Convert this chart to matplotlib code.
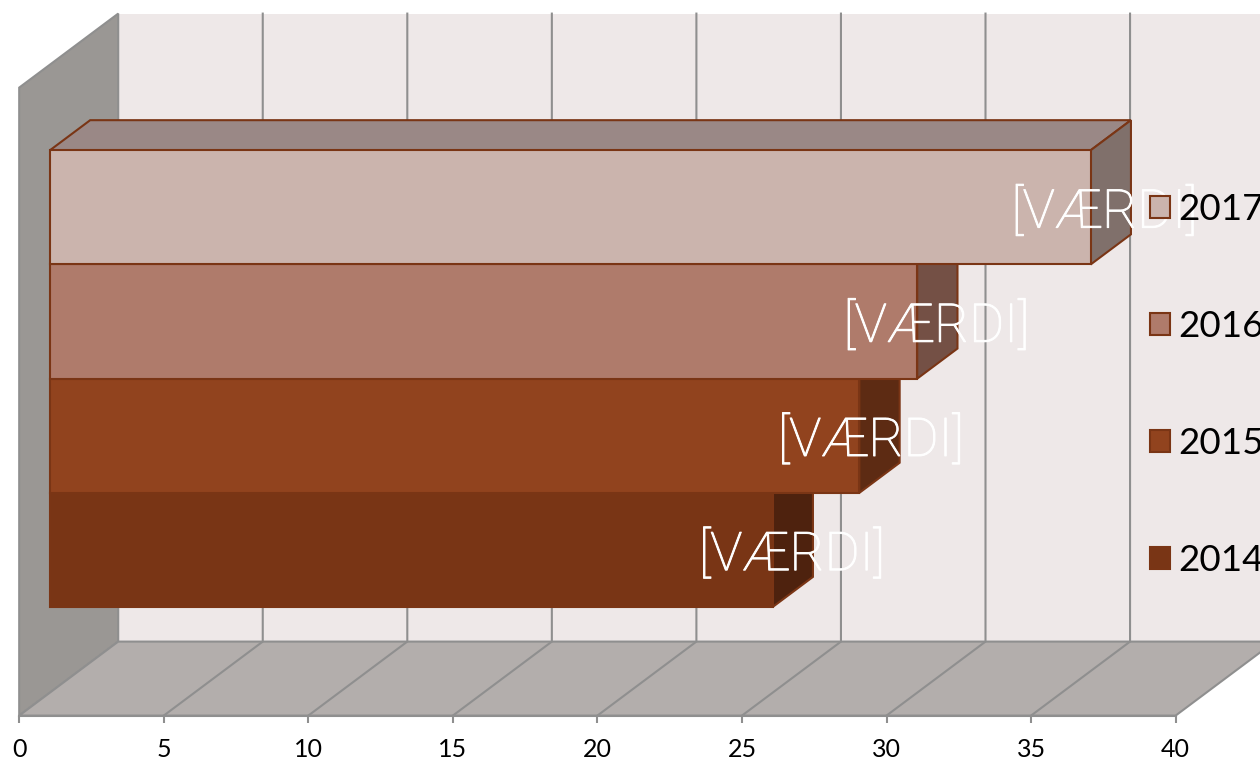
import matplotlib
matplotlib.use("Agg")
import matplotlib.pyplot as plt
import matplotlib.patheffects as pe
from matplotlib.patches import Polygon, Patch

# data, bottom bar first
years = ["2014", "2015", "2016", "2017"]
values = [25, 28, 30, 36]
bar_labels = ["[VÆRDI]", "[VÆRDI]", "[VÆRDI]", "[VÆRDI]"]
x_ticks = [0, 5, 10, 15, 20, 25, 30, 35, 40]

front_colors = ["#793515", "#91431E", "#AF7B6B", "#CBB4AD"]
side_colors = ["#4E220E", "#5D2B13", "#745045", "#80706B"]
top_colors = ["#5A2A14", "#6B3418", "#7C5A50", "#9A8886"]
edge_color = "#7A3515"
grid_color = "#8F8F8F"

W, H = 1260, 760
PX_PER_VALUE = 28.91
PLOT_LEFT = 19.2    # px of value 0 on the front edge
PLOT_BOTTOM = 715.6 # px of the front floor edge
PLOT_HEIGHT = 628
DEPTH_X = 99 / PX_PER_VALUE
DEPTH_Y = 74 / PLOT_HEIGHT
BAR_H = 1 / 5.5     # 4 bars plus 150% gap
BAR_D0, BAR_D1 = 0.31, 0.717
LABEL_SHIFT = [0.67, 0.40, 0.67, 0.48]  # labels don't sit evenly past the bar ends


def project(v, y, d):
    # simple oblique projection, d is 0 at the front and 1 at the back
    return v + d * DEPTH_X, y + d * DEPTH_Y


def face(ax, pts, color, edge=None, z=1, lw=1.5):
    ax.add_patch(Polygon([project(*p) for p in pts], closed=True, facecolor=color,
                         edgecolor=edge if edge else color, linewidth=lw, zorder=z,
                         joinstyle="miter"))


plt.rcParams["font.family"] = ["Lato", "DejaVu Sans"]
fig = plt.figure(figsize=(W / 100, H / 100), dpi=100)
ax = fig.add_axes([0, 0, 1, 1])
ax.set_xlim(-PLOT_LEFT / PX_PER_VALUE, (W - PLOT_LEFT) / PX_PER_VALUE)
ax.set_ylim(-(H - PLOT_BOTTOM) / PLOT_HEIGHT, PLOT_BOTTOM / PLOT_HEIGHT)
ax.patch.set_visible(False)

vmax = x_ticks[-1]

# walls and floor
face(ax, [(0, 0, 1), (vmax, 0, 1), (vmax, 1, 1), (0, 1, 1)], "#EEE8E8", z=1, lw=0)
face(ax, [(0, 0, 0), (0, 0, 1), (0, 1, 1), (0, 1, 0)], "#9A9794", edge=grid_color, z=1, lw=1.5)
face(ax, [(0, 0, 0), (vmax, 0, 0), (vmax, 0, 1), (0, 0, 1)], "#B3AEAC", edge=grid_color, z=1, lw=1.5)

# gridlines: along the floor, then up the back wall
for t in x_ticks[1:-1]:
    xs, ys = zip(project(t, 0, 0), project(t, 0, 1), project(t, 1, 1))
    ax.plot(xs, ys, color=grid_color, lw=1.5, zorder=2, solid_joinstyle="miter")

# bars, lowest one first so each upper bar covers the side below it
y0 = 0.75 * BAR_H
for i, v in enumerate(values):
    b = y0 + i * BAR_H
    t = b + BAR_H
    z = 3 + i * 0.1
    face(ax, [(0, t, BAR_D0), (v, t, BAR_D0), (v, t, BAR_D1), (0, t, BAR_D1)], top_colors[i], edge_color, z)
    face(ax, [(v, b, BAR_D0), (v, b, BAR_D1), (v, t, BAR_D1), (v, t, BAR_D0)], side_colors[i], edge_color, z)
    face(ax, [(0, b, BAR_D0), (v, b, BAR_D0), (v, t, BAR_D0), (0, t, BAR_D0)], front_colors[i], edge_color, z)
    lx, ly = project(v, b + BAR_H / 2, BAR_D0)
    txt = ax.text(lx + LABEL_SHIFT[i], ly - 0.008, bar_labels[i], color="white", fontsize=38.5, family="Roboto",
                  fontweight="light", ha="center", va="center", zorder=4)
    # the light face is thinner than the original, thicken it a bit
    txt.set_path_effects([pe.withStroke(linewidth=0.7, foreground="white")])

# value axis
for name in ["left", "right", "top"]:
    ax.spines[name].set_visible(False)
ax.spines["bottom"].set_position(("data", 0))
ax.spines["bottom"].set_bounds(0, vmax)
ax.spines["bottom"].set_color(grid_color)
ax.spines["bottom"].set_linewidth(1.5)
ax.spines["bottom"].set_zorder(2)
ax.set_yticks([])
ax.set_xticks(x_ticks)
ax.tick_params(axis="x", direction="out", length=5, width=1.5, color=grid_color,
               labelsize=18, labelcolor="black", pad=11)

# legend, top entry is the newest year
handles = [Patch(facecolor=c, edgecolor=edge_color, linewidth=1.5) for c in front_colors[::-1]]
leg = ax.legend(handles, years[::-1], loc="center left",
                bbox_to_anchor=(1150 / W, 1 - 385 / H), bbox_transform=fig.transFigure,
                frameon=False, fontsize=26.5, labelcolor="black", borderpad=0, borderaxespad=0,
                handlelength=0.555, handleheight=0.555, handletextpad=0.2, labelspacing=2.28)
leg.set_zorder(5)
leg.set_in_layout(False)

fig.savefig("out.png", dpi=100)
